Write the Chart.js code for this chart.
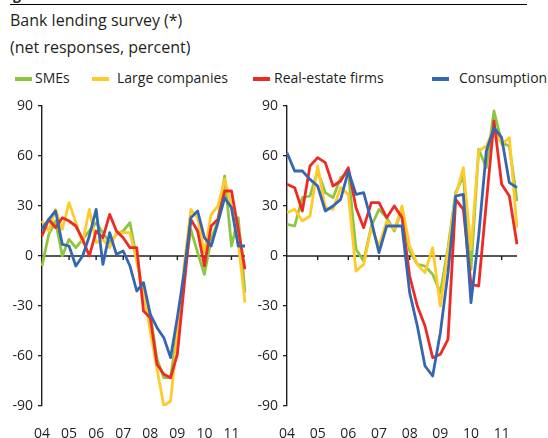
<!DOCTYPE html>
<html>
<head>
<meta charset="utf-8">
<script src="https://cdn.jsdelivr.net/npm/chart.js@4.4.0/dist/chart.umd.min.js"></script>
<style>
  body { margin: 0; width: 548px; height: 438px; background: #fff; position: relative; overflow: hidden;
         font-family: "Open Sans", sans-serif; color: #231f20; }
  .abs { position: absolute; white-space: nowrap; }
  #fig { left: 1px; top: -12px; font-weight: bold; font-size: 14px; line-height: 14px; }
  #rule { left: 10px; top: 4px; width: 517px; height: 0; border-top: 1.4px solid #000; }
  #title { left: 10px; top: 10px; font-size: 16px; line-height: 20px; }
  #sub { left: 10px; top: 37px; font-size: 16px; line-height: 20px; }
  .leg { top: 70px; font-size: 14px; line-height: 16px; }
  .sw { top: 77px; width: 17px; height: 4px; }
  #c1 { position: absolute; left: 0; top: 90px; }
  #c2 { position: absolute; left: 250px; top: 90px; }
</style>
</head>
<body>
<div class="abs" id="fig">Figure</div>
<div class="abs" id="rule"></div>
<div class="abs" id="title">Bank lending survey (*)</div>
<div class="abs" id="sub">(net responses, percent)</div>
<div id="legend"></div>
<canvas id="c1" width="262" height="348"></canvas>
<canvas id="c2" width="298" height="348"></canvas>
<script>
const quarters = [
    '04Q1', '04Q2', '04Q3', '04Q4', '05Q1', '05Q2', '05Q3', '05Q4',
    '06Q1', '06Q2', '06Q3', '06Q4', '07Q1', '07Q2', '07Q3', '07Q4',
    '08Q1', '08Q2', '08Q3', '08Q4', '09Q1', '09Q2', '09Q3', '09Q4',
    '10Q1', '10Q2', '10Q3', '10Q4', '11Q1', '11Q2', '11Q3'
];
const yTicks = [-90, -60, -30, 0, 30, 60, 90];

const seriesNames = ['SMEs', 'Large companies', 'Real-estate firms', 'Consumption'];
const seriesColors = ['#8dc63f', '#ffcb2b', '#ee2a24', '#3466b2'];

// left panel
const smesLeft = [-6, 13, 21, 0, 10, 5, 10, 15, 20, 14, 8, 13, 15, 20, -2, -25,
    -35, -62, -73, -73, -45, -10, 16, 2, -11, 10, 21, 48, 6, 23, -22];
const largeLeft = [21, 15, 28, 16, 32, 20, 8, 28, 8, 10, 5, 14, 14, 14, -3, -22,
    -45, -68, -90, -87, -48, -6, 28, 23, 2, 25, 30, 46, 30, 8, -28];
const realEstateLeft = [12, 22, 17, 23, 21, 18, 10, 0, 15, 11, 25, 15, 11, 5, 5, -33,
    -37, -65, -71, -73, -59, -18, 22, 15, -6, 18, 22, 39, 39, 16, -8];
const consumptionLeft = [16, 22, 27, 7, 6, -6, 0, 12, 28, -5, 14, 1, 3, -6, -21, -16,
    -35, -43, -49, -61, -37, -10, 23, 27, 11, 6, 20, 35, 29, 6, 6];

// right panel
const smesRight = [19, 18, 35, 36, 51, 38, 35, 47, 50, 4, -3, 18, 28, 23, 15, 28,
    3, -5, -6, -11, -22, 5, 38, 48, -8, 64, 53, 87, 68, 66, 33];
const largeRight = [26, 28, 21, 24, 54, 29, 28, 41, 37, -9, -5, 17, 6, 21, 16, 30,
    6, -5, -10, 5, -30, 3, 36, 53, 4, 63, 66, 77, 67, 71, 17];
const realEstateRight = [43, 41, 27, 54, 59, 56, 42, 45, 53, 29, 17, 32, 32, 23, 30, 23,
    -12, -30, -42, -61, -59, -50, 34, 28, -17, -18, 32, 81, 43, 36, 7];
const consumptionRight = [62, 51, 51, 46, 42, 27, 30, 34, 51, 37, 38, 21, 2, 18, 18, 18,
    -22, -42, -66, -72, -46, -10, 36, 37, -28, 12, 63, 77, 71, 44, 41];

// legend placement (swatch x, text x)
const legendPos = [[15, 35], [92, 117], [253, 274], [432, 459]];

const ink = '#231f20';
Chart.defaults.font.family = '"Open Sans", sans-serif';
Chart.defaults.color = ink;

const legend = document.getElementById('legend');
seriesNames.forEach((name, i) => {
    const sw = document.createElement('div');
    sw.className = 'abs sw';
    sw.style.left = legendPos[i][0] + 'px';
    sw.style.background = seriesColors[i];
    legend.appendChild(sw);
    const txt = document.createElement('div');
    txt.className = 'abs leg';
    txt.style.left = legendPos[i][1] + 'px';
    txt.textContent = name;
    legend.appendChild(txt);
});

// x axis drawn at zero with year tick marks
const zeroAxis = {
    id: 'zeroAxis',
    beforeDatasetsDraw(chart) {
        const { ctx, chartArea, scales: { x, y } } = chart;
        const y0 = y.getPixelForValue(0);
        ctx.save();
        ctx.strokeStyle = ink;
        ctx.lineWidth = 1.4;
        ctx.beginPath();
        ctx.moveTo(chartArea.left, y0);
        ctx.lineTo(chartArea.right, y0);
        quarters.forEach((q, i) => {
            if (i > 0 && q.endsWith('Q1')) {
                const px = x.getPixelForValue(i);
                ctx.moveTo(px, y0);
                ctx.lineTo(px, y0 + 4);
            }
        });
        ctx.stroke();
        ctx.restore();
    }
};

function makePanel(id, series, axisWidth, padRight) {
    const datasets = series.map((data, i) => ({
        label: seriesNames[i],
        data: data,
        borderColor: seriesColors[i],
        backgroundColor: seriesColors[i],
        borderWidth: 2.8,
        borderJoinStyle: 'round',
        pointRadius: 0,
        tension: 0,
        order: series.length - 1 - i
    }));

    return new Chart(document.getElementById(id), {
        type: 'line',
        data: { labels: quarters, datasets: datasets },
        options: {
            responsive: false,
            animation: false,
            layout: { padding: { top: 16, right: padRight, bottom: 0, left: 0 } },
            plugins: { legend: { display: false }, tooltip: { enabled: false } },
            scales: {
                x: {
                    offset: false,
                    grid: { display: false },
                    border: { display: false },
                    ticks: {
                        autoSkip: false,
                        maxRotation: 0,
                        padding: 12,
                        font: { size: 14 },
                        callback: (v, i) => quarters[i].endsWith('Q1') ? quarters[i].slice(0, 2) : ''
                    },
                    afterFit: s => { s.height = 32; }
                },
                y: {
                    min: yTicks[0],
                    max: yTicks[yTicks.length - 1],
                    afterBuildTicks: s => { s.ticks = yTicks.map(v => ({ value: v })); },
                    grid: { drawOnChartArea: false, tickLength: 4, color: ink, lineWidth: 1.3 },
                    border: { color: ink, width: 1.4 },
                    ticks: { padding: 5, font: { size: 14 } },
                    afterFit: s => { s.width = axisWidth; }
                }
            }
        },
        plugins: [zeroAxis]
    });
}

makePanel('c1', [smesLeft, largeLeft, realEstateLeft, consumptionLeft], 42, 17);
makePanel('c2', [smesRight, largeRight, realEstateRight, consumptionRight], 37, 31);
</script>
</body>
</html>
